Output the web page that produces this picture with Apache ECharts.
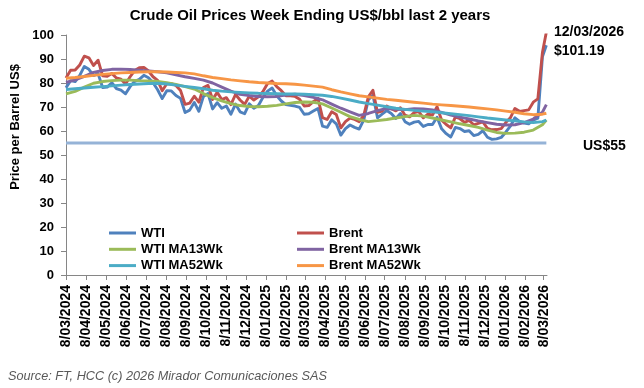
<!DOCTYPE html>
<html><head><meta charset="utf-8">
<script src="https://cdn.jsdelivr.net/npm/echarts@6/dist/echarts.min.js"></script>
<style>html,body{margin:0;padding:0;background:#fff}#c{width:644px;height:388px}</style>
</head><body><div id="c"></div>
<script>
// Weekly observation dates: Fridays from 8 Mar 2024 (105 weeks) plus final 12 Mar 2026
const firstWeek = [2024, 3, 8];
const weeklyCount = 105;
const lastObs = [2026, 3, 12];

const wti = [
  78.0, 81.0, 80.6, 83.2, 86.9, 85.7, 83.1, 83.9, 78.1, 78.3, 80.1, 77.7, 77.0,
  75.5, 78.5, 80.7, 81.5, 83.2, 82.2, 80.1, 77.2, 73.5, 76.8, 76.7, 74.8, 73.6,
  67.7, 68.7, 71.9, 68.2, 74.4, 75.6, 69.2, 71.8, 69.5, 70.4, 67.0, 71.2, 68.0,
  67.2, 71.3, 69.5, 70.6,
  74.0, 76.6, 77.9, 74.7, 72.5, 71.0, 70.7, 70.4, 69.8, 67.0, 67.2, 68.3, 69.4,
  62.0, 61.5, 64.7, 63.0, 58.3, 61.0, 62.5, 61.5, 60.8, 64.6, 73.0, 74.9, 65.5,
  67.0, 68.5, 67.3, 65.2, 67.3, 63.9, 62.8, 63.7, 64.0, 61.9, 62.7, 62.7, 65.7,
  60.9, 58.9, 57.5, 61.5, 61.0, 59.8, 60.1, 58.1, 58.6, 60.1, 57.4, 56.5, 56.7,
  57.3, 59.5, 62.0, 65.5, 64.0, 63.3, 63.0, 64.5, 65.3, 90.9, 95.7
];
const brent = [
  82.1, 85.3, 85.4, 87.5, 91.2, 90.5, 87.3, 89.5, 83.0, 82.8, 84.0, 82.1, 81.6,
  79.6, 82.6, 85.2, 86.4, 86.5, 85.0, 82.6, 81.1, 76.8, 79.7, 79.7, 79.0, 76.9,
  71.1, 71.6, 74.5, 72.0, 78.1, 79.0, 73.1, 76.1, 73.1, 73.9, 71.0, 75.2, 72.9,
  71.1, 74.5, 72.9, 74.2,
  76.5, 79.8, 80.8, 78.5, 76.8, 74.7, 74.7, 74.4, 73.2, 70.4, 70.6, 72.2, 73.6,
  65.6, 64.8, 68.0, 66.9, 61.3, 63.9, 65.4, 64.8, 63.9, 66.5, 74.2, 77.0, 67.8,
  68.3, 70.4, 69.3, 68.4, 69.7, 66.6, 65.9, 67.7, 68.1, 65.5, 67.0, 66.7, 70.1,
  64.5, 62.7, 61.3, 65.9, 65.1, 63.6, 64.4, 62.6, 63.2, 63.8, 61.1, 60.5, 60.6,
  61.0, 63.5, 65.5, 69.4, 68.2, 68.5, 68.8, 72.0, 73.4, 92.7, 101.19
];
// Moving averages read every second week (plus final observation)
const maEvery = 2;
const wtiMA13 = [
  75.5, 76.5, 78.3, 79.9, 80.6, 81.0, 81.2, 81.2, 81.0, 80.9,
  80.6, 80.1, 79.4, 78.5, 77.5, 75.6, 73.9, 72.6, 71.4, 70.6,
  70.2, 70.1, 70.3, 70.7, 71.3, 71.9, 72.1, 72.0, 71.3, 69.6,
  67.8, 66.0, 64.8, 63.9, 64.3, 64.8, 65.4, 66.0, 66.5, 66.2,
  65.4, 64.6, 63.8, 63.0, 62.3, 61.5, 60.4, 59.4, 59.0, 59.1,
  59.5, 60.4, 62.6, 64.6
];
const brentMA13 = [
  80.3, 81.3, 82.8, 84.4, 85.2, 85.7, 85.8, 85.6, 85.3, 85.0,
  84.7, 84.2, 83.4, 82.6, 81.9, 81.2, 80.0, 78.3, 76.6, 75.3,
  74.8, 74.4, 74.3, 74.4, 75.0, 75.3, 74.8, 74.0, 73.0, 71.2,
  69.5, 68.0, 66.5, 67.3, 68.5, 69.4, 69.0, 68.9, 69.3, 69.2,
  68.8, 67.8, 66.6, 65.8, 65.0, 64.2, 63.5, 62.8, 62.5, 62.6,
  63.5, 65.0, 67.8, 71.0
];
const wtiMA52 = [
  77.3, 77.6, 77.9, 78.2, 78.5, 78.8, 79.1, 79.4, 79.6, 79.8,
  79.9, 79.6, 79.1, 78.6, 78.1, 77.6, 77.0, 76.6, 76.3, 76.1,
  75.9, 75.7, 75.6, 75.5, 75.4, 75.4, 75.3, 75.1, 74.9, 74.4,
  73.7, 72.9, 72.1, 71.4, 70.8, 70.1, 69.5, 69.0, 68.6, 68.3,
  68.0, 67.6, 67.2, 66.8, 66.4, 65.9, 65.4, 65.0, 64.6, 64.2,
  63.8, 63.5, 63.9, 64.5
];
const brentMA52 = [
  82.0, 82.3, 82.7, 83.2, 83.6, 83.9, 84.2, 84.4, 84.6, 84.7,
  84.7, 84.6, 84.4, 84.2, 83.8, 83.0, 82.3, 81.8, 81.3, 80.9,
  80.5, 80.2, 80.0, 79.8, 79.7, 79.5, 79.1, 78.7, 78.3, 77.2,
  76.3, 75.5, 74.7, 74.2, 73.7, 73.2, 72.8, 72.4, 72.0, 71.6,
  71.2, 70.9, 70.6, 70.3, 70.0, 69.6, 69.2, 68.8, 68.3, 67.8,
  67.2, 66.8, 67.0, 67.4
];
const refLevel = 55;
const tickLabels = [
  '8/03/2024','8/04/2024','8/05/2024','8/06/2024','8/07/2024','8/08/2024',
  '8/09/2024','8/10/2024','8/11/2024','8/12/2024','8/01/2025','8/02/2025',
  '8/03/2025','8/04/2025','8/05/2025','8/06/2025','8/07/2025','8/08/2025',
  '8/09/2025','8/10/2025','8/11/2025','8/12/2025','8/01/2026','8/02/2026',
  '8/03/2026'
];
const seriesNames = ['WTI','Brent','WTI MA13Wk','Brent MA13Wk','WTI MA52Wk','Brent MA52Wk'];
const colors = ['#4F81BD','#C0504D','#9BBB59','#8064A2','#4BACC6','#F79646'];

// ---- build (x axis is a value axis of day numbers since the first week)
const DAY = 86400000;
const t0 = Date.UTC(firstWeek[0], firstWeek[1]-1, firstWeek[2]);
const dayNo = (y, m, d) => Math.round((Date.UTC(y, m-1, d) - t0) / DAY);
const dates = [];
for (let i = 0; i < weeklyCount; i++) dates.push(7 * i);
dates.push(dayNo(lastObs[0], lastObs[1], lastObs[2]));
const maIdx = [];
for (let i = 0; i < weeklyCount; i += maEvery) maIdx.push(i);
maIdx.push(dates.length - 1);

const tickVals = tickLabels.map(s => { const p = s.split('/').map(Number); return dayNo(p[2], p[1], p[0]); });
const xMin = 0;
const xMax = dayNo(lastObs[0], lastObs[1], lastObs[2] + 1);

const pad = n => (n < 10 ? '0' : '') + n;
const fmt = v => { const d = new Date(t0 + v * DAY); return d.getUTCDate() + '/' + pad(d.getUTCMonth()+1) + '/' + d.getUTCFullYear(); };

const FONT = 'Liberation Sans';
const weekly = arr => arr.map((v, i) => [dates[i], v]);
const ma = arr => arr.map((v, k) => [dates[maIdx[k]], v]);
const allData = [weekly(wti), weekly(brent), ma(wtiMA13), ma(brentMA13), ma(wtiMA52), ma(brentMA52)];

const series = seriesNames.map((n, k) => ({
  name: n, type: 'line', data: allData[k], symbol: 'none', smooth: false,
  lineStyle: { color: colors[k], width: 2.9, join: 'round' }, itemStyle: { color: colors[k] }
}));
series.unshift({
  name: 'US$55', type: 'line', symbol: 'none', silent: true,
  data: [[dates[0], refLevel], [dates[dates.length-1], refLevel]],
  lineStyle: { color: '#95B3D7', width: 3 }, itemStyle: { color: '#95B3D7' }
});

const legendText = { fontFamily: FONT, fontWeight: 'bold', fontSize: 13, color: '#000', lineHeight: 16 };
const chart = echarts.init(document.getElementById('c'), null, { renderer: 'canvas' });
chart.setOption({
  animation: false,
  backgroundColor: '#fff',
  grid: { left: 66, right: 97, top: 35, bottom: 113 },
  xAxis: {
    type: 'value', min: xMin, max: xMax,
    axisLine: { show: true, lineStyle: { color: '#868686', width: 1 } },
    axisTick: { show: true, customValues: tickVals, length: 5, lineStyle: { color: '#868686' } },
    axisLabel: { customValues: tickVals, rotate: 90, margin: 10, formatter: fmt,
      fontFamily: FONT, fontWeight: 'bold', fontSize: 14, color: '#000', hideOverlap: false },
    splitLine: { show: false }
  },
  yAxis: {
    type: 'value', min: 0, max: 100, interval: 10,
    axisLine: { show: true, lineStyle: { color: '#868686', width: 1 } },
    axisTick: { show: true, length: 5, lineStyle: { color: '#868686' } },
    axisLabel: { margin: 12, fontFamily: FONT, fontWeight: 'bold', fontSize: 13, color: '#000' },
    splitLine: { show: false }
  },
  legend: [
    { data: [seriesNames[0], seriesNames[2], seriesNames[4]], orient: 'vertical', left: 104, top: 220,
      icon: 'rect', itemWidth: 27, itemHeight: 3, itemGap: 0.3, textStyle: legendText },
    { data: [seriesNames[1], seriesNames[3], seriesNames[5]], orient: 'vertical', left: 292, top: 220,
      icon: 'rect', itemWidth: 27, itemHeight: 3, itemGap: 0.3, textStyle: legendText }
  ],
  graphic: [
    { type: 'text', x: 310, y: 16, style: { text: 'Crude Oil Prices Week Ending US$/bbl last 2 years',
      font: 'bold 15px "' + FONT + '"', fill: '#000', align: 'center', verticalAlign: 'middle' } },
    { type: 'text', x: 15, y: 127, rotation: Math.PI/2, style: { text: 'Price per Barrel US$',
      font: 'bold 13px "' + FONT + '"', fill: '#000', align: 'center', verticalAlign: 'middle' } },
    { type: 'text', x: 554, y: 32, style: { text: '12/03/2026', font: 'bold 14px "' + FONT + '"', fill: '#000', verticalAlign: 'middle' } },
    { type: 'text', x: 554, y: 51, style: { text: '$101.19', font: 'bold 14px "' + FONT + '"', fill: '#000', verticalAlign: 'middle' } },
    { type: 'text', x: 583, y: 146, style: { text: 'US$55', font: 'bold 14px "' + FONT + '"', fill: '#000', verticalAlign: 'middle' } },
    { type: 'text', x: 8, y: 376, style: { text: 'Source: FT, HCC (c) 2026 Mirador Comunicaciones SAS',
      font: 'italic 12.7px "' + FONT + '"', fill: '#595959', verticalAlign: 'middle' } }
  ],
  series: series
});
</script></body></html>
